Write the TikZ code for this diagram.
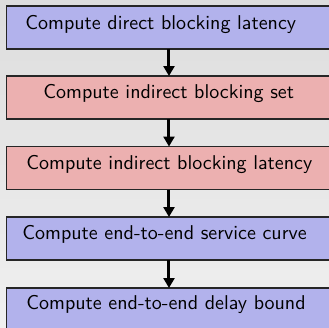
\documentclass[tikz,border=0pt]{standalone}
\usetikzlibrary{arrows.meta}
\definecolor{boxblue}{RGB}{178,178,236}
\definecolor{boxpink}{RGB}{236,176,176}
\definecolor{bgtop}{RGB}{221,221,221}
\definecolor{bgbot}{RGB}{240,240,240}
\tikzset{
  box/.style={draw=black!85, line width=0.75pt, rectangle, anchor=north west,
    minimum width=338.5*0.5pt, minimum height=43*0.5pt, inner sep=0pt, outer sep=0pt},
  lbl/.style={anchor=base west, inner sep=0pt, font=\sffamily},
  arr/.style={line width=1.5pt, -{Triangle[width=5.5pt,length=5pt]}}
}
\begin{document}
\begin{tikzpicture}[x=0.5pt, y=-0.5pt]
\useasboundingbox (0,0) rectangle (329,328);
\clip (0,0) rectangle (329,328);
\shade[top color=bgtop, bottom color=bgbot] (0,0) rectangle (329,328);
\coordinate (ax) at (169,0);
\node[box, fill=boxblue] (b1) at (6.5,6) {};
\node[box, fill=boxpink] (b2) at (6.5,76) {};
\node[box, fill=boxpink] (b3) at (6.5,146.5) {};
\node[box, fill=boxblue] (b4) at (6.5,217) {};
\node[box, fill=boxblue] (b5) at (6.5,288) {};
\node[lbl] (t1) at (25,29) {Compute direct blocking latency};
\node[lbl] (t2) at (43,98) {Compute indirect blocking set};
\node[lbl] (t3) at (26,169) {Compute indirect blocking latency};
\node[lbl] (t4) at (22,239) {Compute end-to-end service curve};
\node[lbl] (t5) at (26,309) {Compute end-to-end delay bound};
\draw[arr] (b1.south -| ax) -- (b2.north -| ax);
\draw[arr] (b2.south -| ax) -- (b3.north -| ax);
\draw[arr] (b3.south -| ax) -- (b4.north -| ax);
\draw[arr] (b4.south -| ax) -- (b5.north -| ax);
\end{tikzpicture}
\end{document}
